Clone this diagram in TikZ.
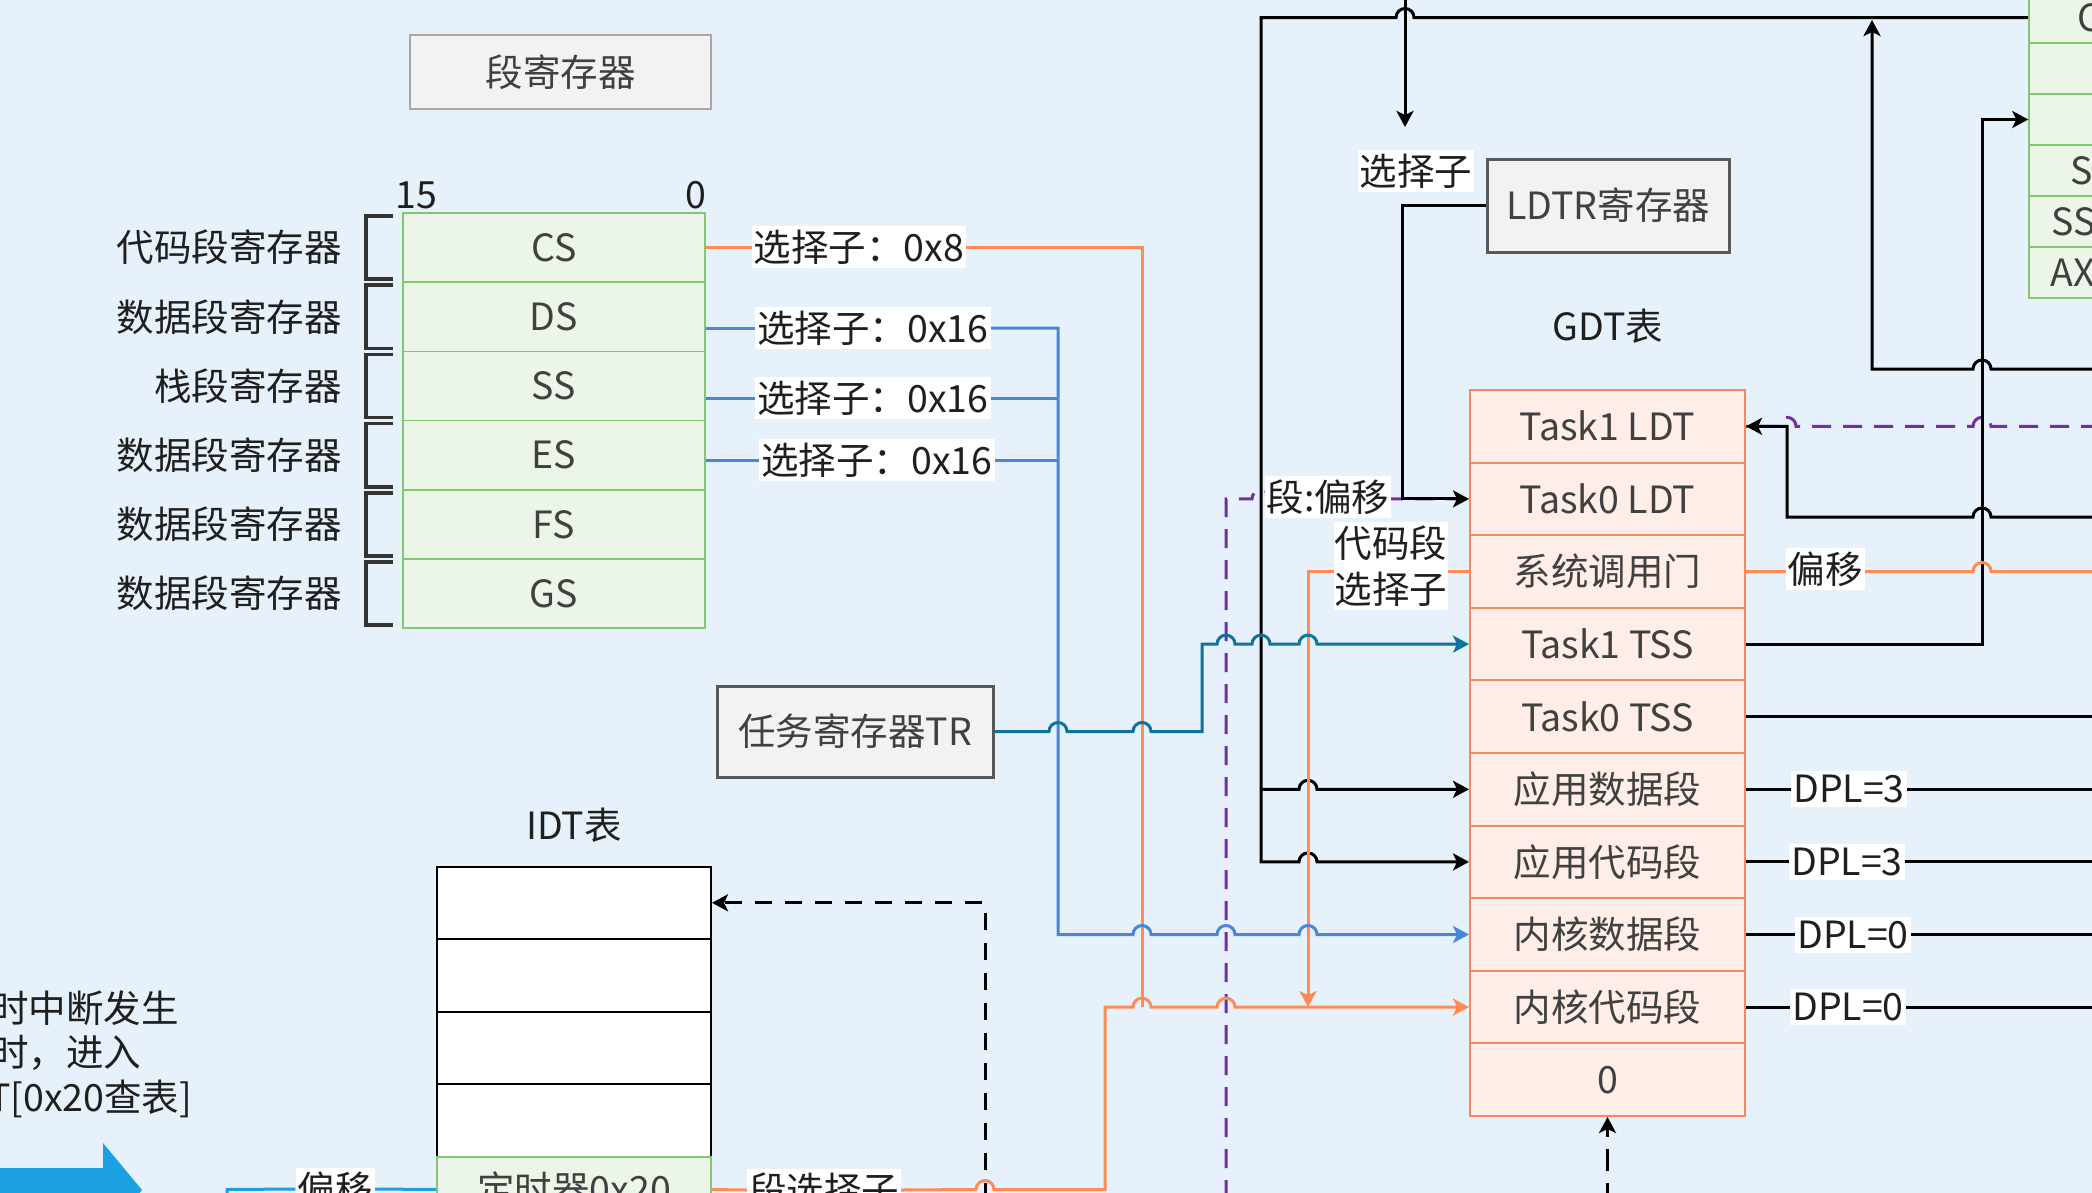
\documentclass[tikz,border=0pt]{standalone}
\usepackage{fontspec}
\setmainfont{Noto Sans CJK SC}
\usetikzlibrary{arrows.meta,calc}
\pgfdeclarelayer{lines}
\pgfsetlayers{lines,main}
\definecolor{bgc}{RGB}{231,241,251}
\definecolor{grf}{RGB}{235,245,232}
\definecolor{grd}{RGB}{130,200,110}
\definecolor{gdtf}{RGB}{255,237,232}
\definecolor{gdtd}{RGB}{240,140,90}
\definecolor{orl}{RGB}{255,140,82}
\definecolor{bll}{RGB}{74,134,216}
\definecolor{tel}{RGB}{16,115,158}
\definecolor{pul}{RGB}{112,48,160}
\definecolor{cyl}{RGB}{27,161,226}
\definecolor{txg}{RGB}{64,64,64}
\definecolor{boxd}{RGB}{89,89,89}
\definecolor{boxf}{RGB}{242,242,242}
\definecolor{brk}{RGB}{51,51,51}
\newcommand\hopr[2]{-- ({#1-9},{#2}) arc[start angle=180,end angle=360,radius=9]}
\newcommand\hopl[2]{-- ({#1+9},{#2}) arc[start angle=0,end angle=-180,radius=9]}
\begin{document}
\begin{tikzpicture}[x=1pt,y=-1pt,
  font=\fontsize{37.5}{46}\selectfont,
  lw/.style={line width=3pt},
  ahead/.style={-{Stealth[length=16pt,width=17pt,inset=4pt]}},
  blk/.style={lw,draw=black},
  org/.style={lw,draw=orl},
  blu/.style={lw,draw=bll},
  tea/.style={lw,draw=tel},
  pur/.style={lw,draw=pul,dash pattern=on 19pt off 12pt},
  cyn/.style={lw,draw=cyl},
  dsh/.style={dash pattern=on 17pt off 13pt},
  srcell/.style={draw=grd,line width=1.5pt,fill=grf,minimum width=302pt,minimum height=69.2pt,inner sep=0pt,text=txg},
  gcell/.style={draw=gdtd,line width=2pt,fill=gdtf,minimum width=275pt,minimum height=72.6pt,inner sep=0pt,text=txg},
  icell/.style={draw=black,line width=2pt,fill=white,minimum width=274pt,minimum height=72.6pt,inner sep=0pt},
  rcell/.style={draw=grd,line width=1.5pt,fill=grf,minimum width=300pt,minimum height=51pt,inner sep=0pt},
  regbox/.style={draw=boxd,line width=3pt,fill=boxf,text=txg,inner sep=0pt},
  lbl/.style={fill=white,inner xsep=2pt,inner ysep=4pt,text=black!88},
  rl/.style={anchor=east,inner sep=0pt,text=black!88},
  plain/.style={inner sep=0pt,text=black!88},
  brkt/.style={draw=brk,line width=3.5pt}
]
\useasboundingbox (0,0) rectangle (2092,1192);
\clip (0,0) rectangle (2092,1192);

% ---------- nodes ----------
\node[draw=gray!70,line width=2pt,fill=boxf,text=txg,minimum width=301pt,minimum height=74pt] (title) at (560.5,72) {段寄存器};

\node[plain] (b15) at (416,195) {15};
\node[plain] (b0) at (696,195) {0};

\node[srcell] (sr1) at (554,247.6) {CS};
\node[srcell] (sr2) at (554,316.8) {DS};
\node[srcell] (sr3) at (554,386.0) {SS};
\node[srcell] (sr4) at (554,455.2) {ES};
\node[srcell] (sr5) at (554,524.4) {FS};
\node[srcell] (sr6) at (554,593.6) {GS};

\node[rl] (n1) at (342,247.6) {代码段寄存器};
\node[rl] (n2) at (342,316.8) {数据段寄存器};
\node[rl] (n3) at (342,386.0) {栈段寄存器};
\node[rl] (n4) at (342,455.2) {数据段寄存器};
\node[rl] (n5) at (342,524.4) {数据段寄存器};
\node[rl] (n6) at (342,593.6) {数据段寄存器};

\foreach \t/\b in {213/282,282/351.4,351.4/420.6,420.6/489.8,489.8/559,559/628.2}
  \draw[brkt] (393,\t+3) -- (366,\t+3) -- (366,\b-3) -- (393,\b-3);

\node[lbl] (lcs) at (859,247) {选择子：0x8};
\node[lbl] (lds) at (873,328) {选择子：0x16};
\node[lbl] (lss) at (873,398) {选择子：0x16};
\node[lbl] (les) at (877,460) {选择子：0x16};

\node[regbox,minimum width=276pt,minimum height=91pt] (tr) at (855,731.5) {任务寄存器TR};

\node[plain] (idtt) at (574,825) {IDT表};
\node[icell] (idt1) at (574,902.8) {};
\node[icell] (idt2) at (574,975.4) {};
\node[icell] (idt3) at (574,1048.0) {};
\node[icell] (idt4) at (574,1120.6) {};
\node[draw=grd,line width=1.5pt,fill=grf,minimum width=274pt,minimum height=65pt,inner sep=0pt,text=txg] (idt5) at (574,1189.5) {定时器0x20};

\node[plain,anchor=west] (tx1) at (-9,1008) {时中断发生};
\node[plain,anchor=west] (tx2) at (-9,1053) {时，进入};
\node[plain,anchor=west] (tx3) at (-12,1099) {T[0x20查表]};

\node[plain] (gdtt) at (1608,326) {GDT表};
\node[gcell] (g1) at (1607.5,426.3) {Task1 LDT};
\node[gcell] (g2) at (1607.5,498.9) {Task0 LDT};
\node[gcell] (g3) at (1607.5,571.5) {系统调用门};
\node[gcell] (g4) at (1607.5,644.1) {Task1 TSS};
\node[gcell] (g5) at (1607.5,716.7) {Task0 TSS};
\node[gcell] (g6) at (1607.5,789.3) {应用数据段};
\node[gcell] (g7) at (1607.5,861.9) {应用代码段};
\node[gcell] (g8) at (1607.5,934.5) {内核数据段};
\node[gcell] (g9) at (1607.5,1007.1) {内核代码段};
\node[gcell] (g10) at (1607.5,1079.7) {0};

\node[regbox,minimum width=242pt,minimum height=93pt] (ldtr) at (1608,205.5) {LDTR寄存器};
\node[lbl] (lsel) at (1416,171) {选择子};

\node[rcell] (t1) at (2179,17.5) {};
\node[rcell] (t2) at (2179,68.5) {};
\node[rcell] (t3) at (2179,119.5) {};
\node[rcell] (t4) at (2179,170.5) {};
\node[rcell] (t5) at (2179,221.5) {};
\node[rcell] (t6) at (2179,272.5) {};
\node[plain,anchor=west,text=txg] (tc1) at (2077,17.5) {C};
\node[plain,anchor=west,text=txg] (tc4) at (2070,170.5) {S};
\node[plain,anchor=west,text=txg] (tc5) at (2051,221.5) {SS};
\node[plain,anchor=west,text=txg] (tc6) at (2050,272.5) {AX};

\node[lbl] (lseg) at (1328,497) {段:偏移};
\node[lbl,align=center,inner xsep=1pt] (lcode) at (1391,566) {代码段\\选择子};
\node[lbl] (loff) at (1825,569) {偏移};
\node[lbl] (d1) at (1849,789.3) {DPL=3};
\node[lbl] (d2) at (1847,861.9) {DPL=3};
\node[lbl] (d3) at (1853,934.5) {DPL=0};
\node[lbl] (d4) at (1848,1007.1) {DPL=0};
\node[lbl] (lsb) at (824,1190) {段选择子};
\node[lbl] (lob) at (335,1189) {偏移};

\coordinate (topin) at (1405,-5);
\coordinate (topend) at (1405,127);
\coordinate (r369) at (2100,369);
\coordinate (r426) at (2100,426.3);
\coordinate (r517) at (2100,517);
\coordinate (r571) at (2100,571.5);
\coordinate (r717) at (2100,716.7);
\coordinate (r789) at (2100,789.3);
\coordinate (r862) at (2100,861.9);
\coordinate (r935) at (2100,934.5);
\coordinate (r1007) at (2100,1007.1);
\coordinate (bgdt) at (1607.5,1205);
\coordinate (bpur) at (1226,1230);
\coordinate (bidt) at (985,1230);
\coordinate (bcyn) at (227,1230);

% ---------- lines ----------
\begin{pgfonlayer}{lines}
\clip (0,0) rectangle (2092,1192);
\fill[bgc] (-5,-5) rectangle (2100,1200);

% big cyan arrow
\fill[cyl] (-10,1168) -- (103,1168) -- (103,1143) -- (142,1190) -- (103,1237) -- (103,1212) -- (-10,1212) -- cycle;

% top black structure
\draw[blk,ahead] (t1.west) \hopl{1405}{17.5} -- (1261,17.5) -- (1261,861.9) \hopr{1308}{861.9} -- (g7.west);
\draw[blk,ahead] (1261,789.3) \hopr{1308}{789.3} -- (g6.west);
\draw[blk,ahead] (topin) -- (topend);
\draw[blk,ahead] (g4.east) -- (1982,644.1) -- (1982,119.5) -- (t3.west);
\draw[blk,ahead] (r369) \hopl{1982}{369} -- (1872,369) -- (1872,20);

% purple dashed
\draw[pur] (r426) \hopl{1982}{426.3} \hopl{1787}{426.3} -- (g1.east);
\draw[pur] (bpur) -- (1226,498.9) \hopr{1261}{498.9} -- (g2.west);

\draw[blk,ahead] (r517) \hopl{1982}{517} -- (1787,517) -- (1787,426.3) -- (g1.east);
\draw[org] (g3.east) \hopr{1982}{571.5} -- (r571);
\draw[blk] (g5.east) -- (r717);
\draw[blk] (g6.east) -- (r789);
\draw[blk] (g7.east) -- (r862);
\draw[blk] (g8.east) -- (r935);
\draw[blk] (g9.east) -- (r1007);
\draw[blk,dash pattern=on 22pt off 12pt,ahead] (bgdt) -- (g10.south);

% LDTR
\draw[blk,ahead] (ldtr.west) -- (1402,205.5) -- (1402,498.9) -- (g2.west);

% code selector from call gate
\draw[org,ahead] (g3.west) -- (1308,571.5) -- (1308,1007.1);

% CS
\draw[org] (sr1.east |- lcs.west) -- (lcs.west);
\draw[org] (lcs.east) -- (1142,247) -- (1142,1007.1);

% DS / SS / ES
\draw[blu] (sr2.east |- lds.west) -- (lds.west);
\draw[blu,ahead] (lds.east) -- (1058,328) -- (1058,934.5) \hopr{1142}{934.5} \hopr{1226}{934.5} \hopr{1308}{934.5} -- (g8.west);
\draw[blu] (sr3.east |- lss.west) -- (lss.west);
\draw[blu] (lss.east) -- (1058,398);
\draw[blu] (sr4.east |- les.west) -- (les.west);
\draw[blu] (les.east) -- (1058,460);

% TR
\draw[tea,ahead] (tr.east) \hopr{1058}{731.5} \hopr{1142}{731.5} -- (1202,731.5) -- (1202,644.1) \hopr{1226}{644.1} \hopr{1261}{644.1} \hopr{1308}{644.1} -- (g4.west);

% IDT dashed
\draw[blk,dsh,ahead] (bidt) -- (985,902.8) -- (idt1.east);

% bottom orange
\draw[org] (idt5.east) -- (lsb.west);
\draw[org,ahead] (lsb.east) \hopr{985}{1189.5} -- (1105,1189.5) -- (1105,1007.1) \hopr{1142}{1007.1} \hopr{1226}{1007.1} -- (g9.west);

% cyan offset
\draw[cyn] (bcyn) -- (227,1189.5) -- (lob.west);
\draw[cyn] (lob.east) -- (idt5.west);
\end{pgfonlayer}
\end{tikzpicture}
\end{document}
